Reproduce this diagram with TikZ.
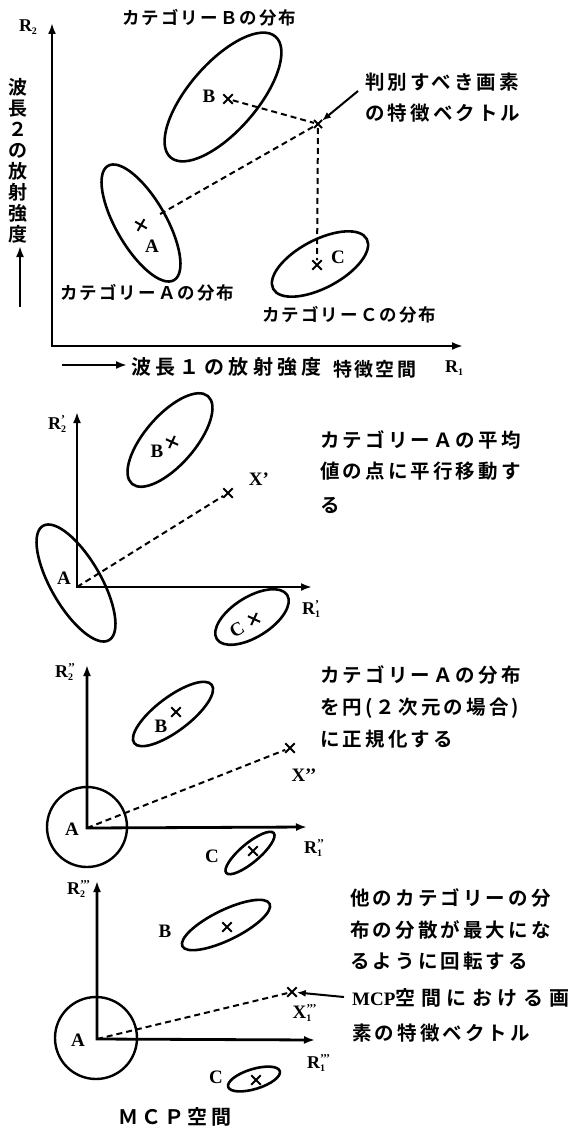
\documentclass[tikz,border=0pt]{standalone}
\usepackage{fontspec}
\setmainfont{Liberation Serif}
\newfontfamily\jpS{Noto Sans CJK JP}[LetterSpace=12,BoldFont={Noto Sans CJK JP Bold}]
\newfontfamily\jpL{Noto Sans CJK JP}[LetterSpace=16,BoldFont={Noto Sans CJK JP Bold}]
\newfontfamily\jpW{Noto Sans CJK JP}[LetterSpace=22,BoldFont={Noto Sans CJK JP Bold}]
\newfontfamily\jpX{Noto Sans CJK JP}[LetterSpace=28,BoldFont={Noto Sans CJK JP Bold}]
\usetikzlibrary{shapes.geometric,shapes.misc,arrows.meta}
\newcommand{\Rlab}[3]{#1\makebox[0pt][l]{\raisebox{6pt}{\fontsize{12}{12}\selectfont #2}}\raisebox{-3pt}{\fontsize{10}{10}\selectfont #3}}
\begin{document}
\begin{tikzpicture}[x=1pt,y=-1pt,
  ax/.style={line width=2.8pt,{Latex[length=11pt,width=8pt]}-{Latex[length=11pt,width=8pt]}},
  axone/.style={line width=2.8pt,-{Latex[length=11pt,width=8pt]}},
  dist/.style={draw,ellipse,line width=2.6pt,inner sep=0pt},
  ring/.style={draw,circle,line width=2.4pt,inner sep=0pt},
  xm/.style={cross out,draw,minimum size=7.5pt,inner sep=0pt,line width=2pt},
  dsh/.style={line width=2pt,dash pattern=on 6pt off 4pt},
  lab/.style={font=\fontsize{19}{19}\selectfont\bfseries,inner sep=0pt},
  rlab/.style={font=\fontsize{18}{18}\selectfont\bfseries,inner sep=0pt},
  jps/.style={font=\jpS\bfseries\fontsize{17.5}{17.5}\selectfont,inner sep=0pt,anchor=west},
  jpl/.style={font=\jpL\bfseries\fontsize{19.5}{19.5}\selectfont,inner sep=0pt,anchor=west},
  jpw/.style={font=\jpW\bfseries\fontsize{20}{20}\selectfont,inner sep=0pt,anchor=west},
  ptr/.style={line width=2pt,-{Latex[length=9pt,width=7pt]}}
]
\useasboundingbox (0,0) rectangle (575,1129);

% ===== Panel 1: feature space =====
\coordinate (O1) at (52,346);
\coordinate (Y1) at (52,23);
\coordinate (X1end) at (463,346);
\draw[ax] (Y1) -- (O1) -- (X1end);
\node[rlab] (R2a) at (28,27) {\Rlab{R}{}{2}};
\node[rlab] (R1a) at (454,368) {\Rlab{R}{}{1}};

\node[font=\jpS\bfseries\fontsize{19}{21}\selectfont,align=center,inner sep=0pt] (vlab) at (18,161)
  {波\\長\\２\\の\\放\\射\\強\\度};
\coordinate (va0) at (20,307);
\coordinate (va1) at (20,246);
\draw[axone,line width=2pt] (va0) -- (va1);
\coordinate (ha0) at (62,365);
\coordinate (ha1) at (127,365);
\draw[axone,line width=2pt] (ha0) -- (ha1);
\node[jpw] (hlab) at (131,367) {波長１の放射強度};
\node[jps,font=\jpS\bfseries\fontsize{19}{19}\selectfont] (fs) at (333,369) {特徴空間};

\node[dist,minimum width=160pt,minimum height=68pt,rotate=49] (eB1) at (223,97) {};
\node[dist,minimum width=132pt,minimum height=50pt,rotate=-60] (eA1) at (141,223) {};
\node[dist,minimum width=106pt,minimum height=48pt,rotate=28] (eC1) at (320,264) {};

\node[xm] (mB1) at (228,99) {};
\node[lab] (lB1) at (209,96) {B};
\node[xm,rotate=15] (mA1) at (141,225) {};
\node[lab] (lA1) at (152,246) {A};
\node[xm] (mC1) at (317,265) {};
\node[lab] (lC1) at (338,257) {C};
\node[xm,minimum size=6pt] (mX1) at (318,124) {};

\draw[dsh] (mB1) -- (mX1);
\draw[dsh,shorten <=22pt] (mA1.center) -- (mX1.center);
\draw[dsh] (mX1) -- (mC1);

\node[jps] (tB1) at (122,18) {カテゴリーＢの分布};
\node[jps] (tA1) at (60,293) {カテゴリーＡの分布};
\node[jps] (tC1) at (262,315) {カテゴリーＣの分布};
\node[jpl] (t1a) at (365,82) {判別すべき画素};
\node[jpl] (t1b) at (365,113) {の特徴ベクトル};
\coordinate (p1) at (358,91);
\draw[ptr] (p1) -- (mX1);

% ===== Panel 2: translation =====
\coordinate (O2) at (77,587);
\coordinate (Y2) at (77,412);
\coordinate (X2end) at (312,587);
\node[dist,minimum width=132pt,minimum height=50pt,rotate=-60] (eA2) at (76,583) {};
\draw[ax] (Y2) -- (O2) -- (X2end);
\node[rlab] (R2b) at (57,424) {\Rlab{R}{’}{2}};
\node[rlab] (R1b) at (311,609) {\Rlab{R}{’}{1}};
\node[lab] (lA2) at (64,578) {A};

\node[dist,minimum width=116pt,minimum height=50pt,rotate=49] (eB2) at (170,440) {};
\node[lab] (lB2) at (157,451) {B};
\node[xm,rotate=20] (mB2) at (172,442) {};
\node[dist,minimum width=83pt,minimum height=40pt,rotate=32] (eC2) at (252,617) {};
\node[lab,rotate=30] (lC2) at (237,630) {C};
\node[xm,rotate=20] (mC2) at (254,619) {};

\node[xm] (mX2) at (228,493) {};
\node[lab] (lX2) at (259,479) {X’};
\draw[dsh] (O2) -- (mX2);

\node[jpl] (t2a) at (320,440) {カテゴリーＡの平均};
\node[jpl] (t2b) at (320,471) {値の点に平行移動す};
\node[jpl] (t2c) at (320,505) {る};

% ===== Panel 3: normalization =====
\coordinate (O3) at (87,828);
\coordinate (Y3) at (87,665);
\coordinate (X3end) at (307,827);
\node[ring,minimum size=80pt] (cA3) at (87,827) {};
\draw[ax] (Y3) -- (O3) -- (X3end);
\node[rlab] (R2c) at (64,672) {\Rlab{R}{’’}{2}};
\node[rlab] (R1c) at (313,848) {\Rlab{R}{’’}{1}};
\node[lab] (lA3) at (72,829) {A};

\node[dist,minimum width=97pt,minimum height=34pt,rotate=37] (eB3) at (173,714) {};
\node[lab] (lB3) at (161,726) {B};
\node[xm] (mB3) at (176,712) {};
\node[dist,minimum width=62pt,minimum height=19pt,rotate=40] (eC3) at (250,853) {};
\node[lab] (lC3) at (212,856) {C};
\node[xm] (mC3) at (253,851) {};

\node[xm] (mX3) at (290,748) {};
\node[lab] (lX3) at (304,775) {X’’};
\draw[dsh] (O3) -- (mX3);

\node[jpl] (t3a) at (320,675) {カテゴリーＡの分布};
\node[jpl] (t3b) at (320,708) {を円(２次元の場合)};
\node[jpl] (t3c) at (320,739) {に正規化する};

% ===== Panel 4: rotation (MCP space) =====
\coordinate (O4) at (97,1039);
\coordinate (Y4) at (97,881);
\coordinate (X4end) at (315,1040);
\node[ring,minimum size=82pt] (cA4) at (96,1038) {};
\draw[ax] (Y4) -- (O4) -- (X4end);
\node[rlab] (R2d) at (76,889) {\Rlab{R}{’’’}{2}};
\node[rlab] (R1d) at (316,1063) {\Rlab{R}{’’’}{1}};
\node[lab] (lA4) at (78,1040) {A};

\node[dist,minimum width=97pt,minimum height=30pt,rotate=26] (eB4) at (226,925) {};
\node[lab] (lB4) at (165,931) {B};
\node[xm] (mB4) at (227,927) {};
\node[dist,minimum width=54pt,minimum height=20pt,rotate=17] (eC4) at (254,1079) {};
\node[lab] (lC4) at (216,1077) {C};
\node[xm] (mC4) at (256,1080) {};

\node[xm] (mX4) at (292,992) {};
\node[lab] (lX4) at (302,1013) {\Rlab{X}{’’’}{1}};
\draw[dsh] (O4) -- (mX4);
\coordinate (p4) at (344,997);
\draw[ptr] (p4) -- (mX4);

\node[jpl] (t4a) at (350,898) {他のカテゴリーの分};
\node[jpl] (t4b) at (350,930) {布の分散が最大にな};
\node[jpl] (t4c) at (350,961) {るように回転する};
\node[inner sep=0pt,anchor=west] (t4d) at (352,998)
  {{\fontsize{19}{19}\selectfont\bfseries MCP}{\jpX\bfseries\fontsize{20}{20}\selectfont 空間における画}};
\node[jpl] (t4e) at (352,1033) {素の特徴ベクトル};
\node[jpl,font=\jpL\bfseries\fontsize{20}{20}\selectfont] (mcp) at (118,1117) {ＭＣＰ空間};
\end{tikzpicture}
\end{document}
